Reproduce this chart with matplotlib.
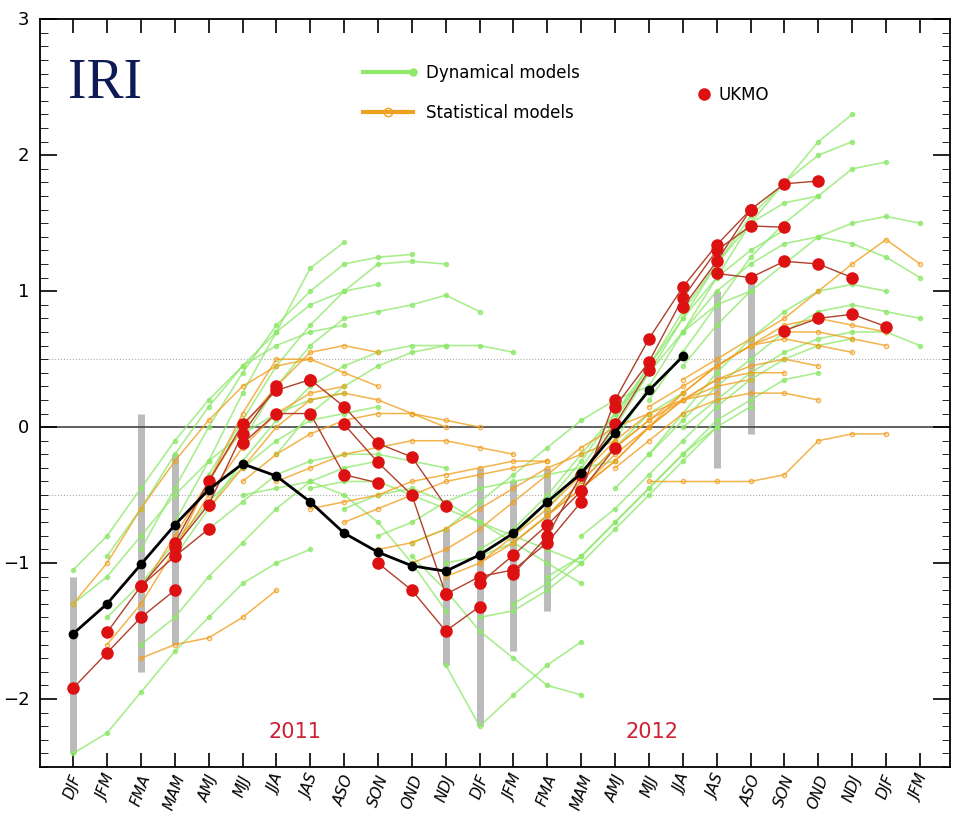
import matplotlib
matplotlib.use("Agg")
import matplotlib.pyplot as plt
from matplotlib.ticker import MultipleLocator

# seasons on x axis (DJF 2011 .. JFM 2013)
seasons = ["DJF", "JFM", "FMA", "MAM", "AMJ", "MJJ", "JJA", "JAS", "ASO", "SON", "OND", "NDJ", "DJF",
           "JFM", "FMA", "MAM", "AMJ", "MJJ", "JJA", "JAS", "ASO", "SON", "OND", "NDJ", "DJF", "JFM"]

# observed Nino3.4 anomaly
obs = [-1.52, -1.30, -1.01, -0.72, -0.46, -0.27, -0.36, -0.55, -0.78, -0.92, -1.02, -1.06, -0.94,
       -0.78, -0.55, -0.34, -0.04, 0.27, 0.52]

# dynamical model runs: (start index, values)
dyn_runs = [
    (0, [-1.05, -0.80, -0.45, -0.10, 0.20, 0.45, 0.60, 0.70, 0.75]),
    (0, [-1.30, -1.10, -0.80, -0.50, -0.25, -0.05, 0.10, 0.20, 0.25]),
    (0, [-2.40, -2.25, -1.95, -1.65, -1.40, -1.15, -1.00, -0.90]),
    (1, [-0.95, -0.60, -0.20, 0.15, 0.45, 0.70, 0.90, 1.00, 1.05]),
    (1, [-1.40, -1.15, -0.85, -0.55, -0.30, -0.10, 0.05, 0.10, 0.15]),
    (2, [-0.90, -0.45, 0.00, 0.40, 0.75, 1.00, 1.20, 1.25, 1.27]),
    (2, [-1.60, -1.40, -1.10, -0.85, -0.60, -0.40, -0.30, -0.25]),
    (3, [-0.70, -0.25, 0.25, 0.70, 1.17, 1.36]),
    (3, [-0.95, -0.60, -0.25, 0.05, 0.30, 0.45, 0.55, 0.60, 0.60]),
    (4, [-0.35, 0.05, 0.45, 0.75, 1.00, 1.20, 1.22, 1.20]),
    (4, [-0.75, -0.55, -0.35, -0.25, -0.20, -0.20, -0.25, -0.30]),
    (5, [-0.10, 0.30, 0.60, 0.80, 0.85, 0.90, 0.97, 0.85]),
    (5, [-0.50, -0.45, -0.40, -0.50, -0.70, -1.00, -1.35]),
    (6, [-0.20, 0.10, 0.30, 0.45, 0.55, 0.60, 0.60, 0.55]),
    (7, [-0.45, -0.40, -0.40, -0.50, -0.60, -0.70, -0.80, -0.90, -1.00]),
    (8, [-0.60, -0.50, -0.45, -0.55, -0.70, -0.85, -1.00, -1.15]),
    (9, [-0.80, -0.70, -0.55, -0.45, -0.40, -0.35, -0.30, -0.25]),
    (10, [-0.95, -1.20, -1.50, -1.70, -1.90, -1.97]),
    (10, [-0.85, -0.75, -0.55, -0.35, -0.15, 0.05, 0.20, 0.30]),
    (11, [-1.00, -0.95, -0.85, -0.65, -0.40, -0.15, 0.10, 0.25]),
    (11, [-1.75, -2.20, -1.97, -1.75, -1.58]),
    (12, [-0.90, -0.75, -0.50, -0.20, 0.10, 0.40, 0.70, 0.90, 1.00]),
    (12, [-1.40, -1.35, -1.20, -1.00, -0.75, -0.50, -0.25, 0.00]),
    (13, [-0.80, -0.55, -0.25, 0.10, 0.45, 0.80, 1.10, 1.30, 1.45]),
    (13, [-1.30, -1.15, -0.95, -0.70, -0.45, -0.20, 0.00, 0.15]),
    (14, [-0.60, -0.30, 0.05, 0.45, 0.85, 1.20, 1.50, 1.65, 1.70]),
    (14, [-1.10, -0.95, -0.70, -0.45, -0.20, 0.05, 0.20, 0.35, 0.40]),
    (15, [-0.35, 0.00, 0.40, 0.80, 1.20, 1.55, 1.80, 2.00, 2.10]),
    (15, [-0.80, -0.60, -0.35, -0.10, 0.15, 0.35, 0.50, 0.60, 0.65]),
    (16, [-0.10, 0.30, 0.70, 1.10, 1.50, 1.80, 2.10, 2.30]),
    (16, [-0.45, -0.20, 0.10, 0.40, 0.65, 0.85, 1.00, 1.05, 1.00]),
    (17, [0.20, 0.55, 0.90, 1.25, 1.50, 1.70, 1.90, 1.95]),
    (17, [-0.20, 0.05, 0.30, 0.50, 0.70, 0.85, 0.90, 0.85, 0.80]),
    (18, [0.45, 0.75, 1.00, 1.20, 1.40, 1.50, 1.55, 1.50]),
    (18, [0.00, 0.20, 0.40, 0.55, 0.65, 0.70, 0.70, 0.60]),
    (18, [0.70, 1.00, 1.20, 1.35, 1.40, 1.35, 1.25, 1.10]),
]

# statistical model runs
stat_runs = [
    (0, [-1.30, -1.00, -0.60, -0.25, 0.05, 0.30, 0.45, 0.50]),
    (1, [-1.60, -1.30, -0.90, -0.50, -0.15, 0.10, 0.25, 0.30]),
    (2, [-1.20, -0.80, -0.40, 0.00, 0.30, 0.55, 0.60, 0.55]),
    (2, [-1.70, -1.60, -1.55, -1.40, -1.20]),
    (3, [-0.90, -0.40, 0.10, 0.50, 0.50, 0.40, 0.30]),
    (4, [-0.60, -0.30, 0.00, 0.20, 0.25, 0.20, 0.10, 0.00]),
    (5, [-0.40, -0.20, -0.05, 0.05, 0.10, 0.10, 0.05, 0.00]),
    (6, [-0.40, -0.30, -0.20, -0.15, -0.10, -0.10, -0.15, -0.20]),
    (7, [-0.60, -0.55, -0.50, -0.40, -0.35, -0.30, -0.25, -0.25]),
    (8, [-0.70, -0.60, -0.50, -0.40, -0.35, -0.30, -0.25]),
    (9, [-0.90, -0.85, -0.75, -0.60, -0.45, -0.30, -0.20, -0.10]),
    (10, [-1.00, -0.90, -0.75, -0.55, -0.35, -0.15, 0.00, 0.10]),
    (11, [-1.10, -1.00, -0.80, -0.60, -0.35, -0.10, 0.10, 0.20, 0.25]),
    (12, [-1.00, -0.85, -0.65, -0.40, -0.15, 0.05, 0.20, 0.30, 0.35]),
    (13, [-0.85, -0.65, -0.45, -0.20, 0.00, 0.20, 0.35, 0.40, 0.40]),
    (14, [-0.65, -0.45, -0.25, 0.00, 0.20, 0.35, 0.45, 0.50, 0.45]),
    (15, [-0.45, -0.25, 0.00, 0.25, 0.45, 0.60, 0.65, 0.60, 0.55]),
    (16, [-0.15, 0.05, 0.25, 0.45, 0.60, 0.70, 0.70, 0.65, 0.60]),
    (17, [0.15, 0.30, 0.45, 0.60, 0.75, 0.80, 0.75, 0.70]),
    (18, [0.35, 0.50, 0.65, 0.80, 1.00, 1.20, 1.38, 1.20]),
    (17, [-0.40, -0.40, -0.40, -0.40, -0.35, -0.10, -0.05, -0.05]),
    (16, [-0.30, -0.10, 0.10, 0.20, 0.25, 0.25, 0.20]),
]

# UKMO runs
ukmo_runs = [
    (0, [-1.92, -1.66, -1.40, -1.20]),
    (1, [-1.51, -1.17, -0.95, -0.75]),
    (2, [-1.17, -0.88, -0.57, -0.05, 0.30]),
    (3, [-0.85, -0.40, 0.02, 0.27, 0.35]),
    (5, [-0.12, 0.10, 0.10, -0.35, -0.41]),
    (7, [0.35, 0.15, -0.12, -0.22, -0.58]),
    (8, [0.02, -0.26, -0.50, -1.23]),
    (9, [-1.00, -1.20, -1.50, -1.32]),
    (11, [-1.23, -1.10, -1.05, -0.85, -0.55]),
    (12, [-1.15, -0.94, -0.72, -0.47, -0.15]),
    (13, [-1.08, -0.80, -0.35, 0.02, 0.42]),
    (15, [-0.47, 0.20, 0.65, 1.03, 1.34, 1.60]),
    (16, [0.15, 0.48, 0.95, 1.30, 1.48, 1.47]),
    (18, [0.88, 1.22, 1.60, 1.79, 1.81]),
    (19, [1.13, 1.10, 1.22, 1.20, 1.10]),
    (21, [0.71, 0.80, 0.83, 0.74]),
]

# spread bars at start months
bar_x = [0, 2, 3, 11, 12, 13, 14, 19, 20]
bar_lo = [-2.40, -1.80, -1.60, -1.75, -2.20, -1.65, -1.35, -0.30, -0.05]
bar_hi = [-1.10, 0.10, -0.20, -0.75, -0.30, -0.40, -0.30, 1.00, 1.10]

fig = plt.figure(figsize=(9.6, 8.28), dpi=100)
ax = fig.add_axes([0.042, 0.0725, 0.948, 0.903])

ax.vlines(bar_x, bar_lo, bar_hi, color="#bbbbbb", lw=5, zorder=1)

green = "#8ee86a"
orange = "#f0a020"
for s, v in dyn_runs:
    ax.plot(range(s, s + len(v)), v, color=green, lw=1.2, marker="o", ms=3, alpha=0.75, zorder=2)
for s, v in stat_runs:
    ax.plot(range(s, s + len(v)), v, color=orange, lw=1.1, marker="o", ms=3, mfc="none", alpha=0.8, zorder=3)
for s, v in ukmo_runs:
    ax.plot(range(s, s + len(v)), v, color="#b0402a", lw=1, marker="o", ms=8, mfc="#dd1111",
            mec="#dd1111", zorder=5)
ax.plot(range(len(obs)), obs, color="black", lw=2, marker="o", ms=6, zorder=6)

ax.axhline(0, color="#444444", lw=1.2, zorder=1)
ax.axhline(0.5, color="#aaaaaa", lw=0.8, ls=":", zorder=0)
ax.axhline(-0.5, color="#aaaaaa", lw=0.8, ls=":", zorder=0)

ax.set_xlim(-0.97, 25.9)
ax.set_ylim(-2.5, 3)
ax.set_xticks(range(len(seasons)))
ax.set_xticklabels(seasons, rotation=70, fontsize=11, style="italic")
ax.yaxis.set_major_locator(MultipleLocator(1))
ax.yaxis.set_minor_locator(MultipleLocator(0.1))
ax.set_yticklabels([])
for y in [-2, -1, 0, 1, 2, 3]:
    ax.text(-0.012, (y + 2.5) / 5.5, "%d" % y if y >= 0 else "\u2212%d" % -y, transform=ax.transAxes,
            ha="right", va="center", fontsize=13)
ax.tick_params(which="major", direction="in", length=12, top=True, right=True, width=1.2)
ax.tick_params(which="minor", direction="in", length=6, top=False, right=True)
ax.tick_params(axis="x", length=10)
for sp in ax.spines.values():
    sp.set_linewidth(1.3)

ax.text(0.03, 0.95, "IRI", transform=ax.transAxes, fontsize=40, family="Liberation Serif",
        color="#0d1a55", va="top", ha="left")
ax.text(6.55, -2.28, "2011", color="#cc2233", fontsize=15, ha="center")
ax.text(17.1, -2.28, "2012", color="#cc2233", fontsize=15, ha="center")

# legend
ax.plot([0.355, 0.41], [0.929, 0.929], transform=ax.transAxes, color=green, lw=3, marker="o", markevery=[1], ms=5)
ax.plot([0.355, 0.41], [0.876, 0.876], transform=ax.transAxes, color=orange, lw=3)
ax.plot([0.3825], [0.876], transform=ax.transAxes, color=orange, marker="o", ms=6, mfc="none")
ax.text(0.424, 0.929, "Dynamical models", transform=ax.transAxes, fontsize=12, va="center")
ax.text(0.424, 0.876, "Statistical models", transform=ax.transAxes, fontsize=12, va="center")
ax.plot([0.729], [0.90], transform=ax.transAxes, color="#dd1111", marker="o", ms=8)
ax.text(0.745, 0.90, "UKMO", transform=ax.transAxes, fontsize=12, va="center")

fig.savefig("out.png", dpi=100)
